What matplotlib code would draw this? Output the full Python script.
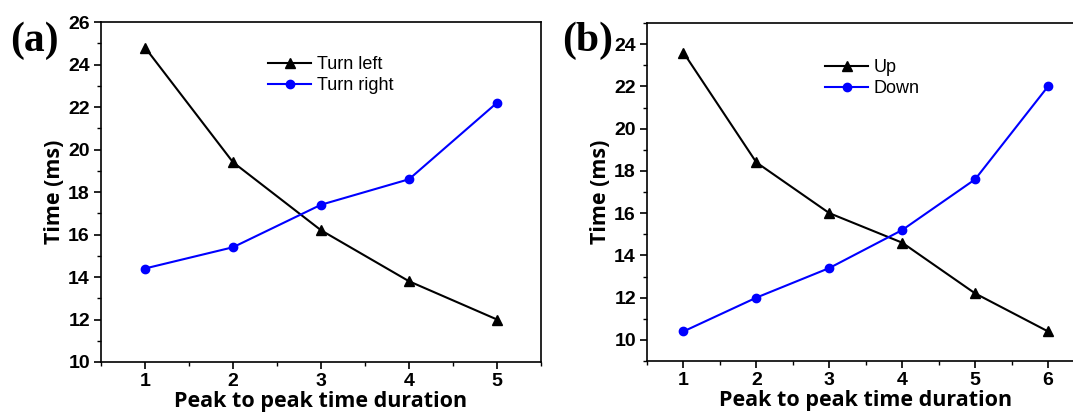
import matplotlib
matplotlib.use("Agg")
import matplotlib.pyplot as plt
from matplotlib.ticker import MultipleLocator

# ---- data ----
x_a = [1, 2, 3, 4, 5]
turn_left = [24.8, 19.4, 16.2, 13.8, 12.0]
turn_right = [14.4, 15.4, 17.4, 18.6, 22.2]

x_b = [1, 2, 3, 4, 5, 6]
up = [23.6, 18.4, 16.0, 14.6, 12.2, 10.4]
down = [10.4, 12.0, 13.4, 15.2, 17.6, 22.0]

plt.rcParams["font.family"] = "Liberation Sans"
plt.rcParams["font.weight"] = "bold"

W, H = 1073, 412
fig = plt.figure(figsize=(W / 100, H / 100), dpi=100)
fig.patch.set_facecolor("white")


def px_axes(left, top, right, bottom):
    return fig.add_axes([left / W, 1 - bottom / H, (right - left) / W, (bottom - top) / H])


def style(ax):
    for s in ax.spines.values():
        s.set_linewidth(1.2)
        s.set_color("black")
    ax.tick_params(which="major", direction="out", length=5, width=1.2, pad=3,
                   labelsize=14)
    ax.tick_params(which="minor", direction="out", length=3, width=1.0)
    ax.set_xlabel("Peak to peak time duration", fontfamily="Open Sans",
                  fontweight="bold", fontsize=15.5, labelpad=0.5)
    ax.set_ylabel("Time (ms)", fontfamily="Open Sans", fontweight="bold",
                  fontsize=15.5, labelpad=2)


leg_kw = dict(loc="upper left", bbox_transform=fig.transFigure, frameon=False,
              borderpad=0, handlelength=2.4, handletextpad=0.3, labelspacing=0.22,
              borderaxespad=0, prop={"family": "Liberation Sans", "size": 13,
                                     "weight": "normal"})

# ---- panel (a) ----
ax1 = px_axes(101, 22, 541, 362)
ax1.plot(x_a, turn_left, color="black", lw=1.5, marker="^", ms=6.5, label="Turn left")
ax1.plot(x_a, turn_right, color="#0000ff", lw=1.5, marker="o", ms=6, label="Turn right")
ax1.set_xlim(0.5, 5.5)
ax1.set_ylim(10, 26)
ax1.xaxis.set_major_locator(MultipleLocator(1))
ax1.xaxis.set_minor_locator(MultipleLocator(0.5))
ax1.yaxis.set_major_locator(MultipleLocator(2))
ax1.yaxis.set_minor_locator(MultipleLocator(1))
style(ax1)
ax1.legend(bbox_to_anchor=(268 / W, 1 - 56 / H), **leg_kw)

# ---- panel (b) ----
ax2 = px_axes(647, 23, 1084.5, 361)
ax2.plot(x_b, up, color="black", lw=1.5, marker="^", ms=6.5, label="Up")
ax2.plot(x_b, down, color="#0000ff", lw=1.5, marker="o", ms=6, label="Down")
ax2.set_xlim(0.5, 6.5)
ax2.set_ylim(9, 25)
ax2.xaxis.set_major_locator(MultipleLocator(1))
ax2.xaxis.set_minor_locator(MultipleLocator(0.5))
ax2.set_yticks([10, 12, 14, 16, 18, 20, 22, 24])
ax2.yaxis.set_minor_locator(MultipleLocator(1))
style(ax2)
ax2.legend(bbox_to_anchor=(825 / W, 1 - 59 / H), **leg_kw)

# ---- panel letters ----
fig.text(10 / W, 1 - 41 / H, "(a)", fontfamily="Liberation Serif", fontweight="bold",
         fontsize=30, va="center", ha="left")
fig.text(562 / W, 1 - 41 / H, "(b)", fontfamily="Liberation Serif", fontweight="bold",
         fontsize=30, va="center", ha="left")

fig.savefig("out.png", dpi=100, facecolor="white")
